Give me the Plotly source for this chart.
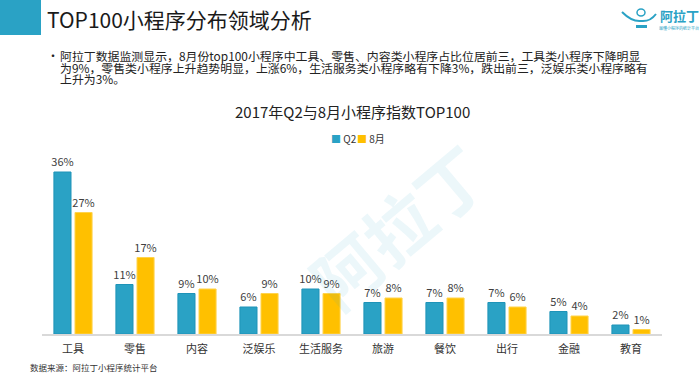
import plotly.graph_objects as go

categories = ["工具", "零售", "内容", "泛娱乐", "生活服务", "旅游", "餐饮", "出行", "金融", "教育"]
q2_values = [36, 11, 9, 6, 10, 7, 7, 7, 5, 2]
aug_values = [27, 17, 10, 9, 9, 8, 8, 6, 4, 1]
series_names = ["Q2", "8月"]

title_text = "TOP100小程序分布领域分析"
bullet_lines = [
    "阿拉丁数据监测显示，8月份top100小程序中工具、零售、内容类小程序占比位居前三，工具类小程序下降明显",
    "为9%，零售类小程序上升趋势明显，上涨6%，生活服务类小程序略有下降3%，跌出前三，泛娱乐类小程序略有",
    "上升为3%。",
]
chart_title = "2017年Q2与8月小程序指数TOP100"
source_text = "数据来源：阿拉丁小程序统计平台"

W, H = 700, 374
L, R, T, B = 42, 38, 154, 40
PW, PH = W - L - R, H - T - B


def ax(px):
    return (px - L) / PW


def ay(py):
    return (H - B - py) / PH


FONT = "Noto Sans CJK SC, Microsoft YaHei, sans-serif"
BLUE = "#2AA2C5"
GOLD = "#FFC000"
colors = [BLUE, GOLD]
edges = ["#1E93B8", "#FFD34D"]

fig = go.Figure()
for name, vals, c, e in zip(series_names, [q2_values, aug_values], colors, edges):
    fig.add_trace(go.Bar(
        x=categories, y=vals, name=name,
        marker=dict(color=c, line=dict(color=e, width=1)),
        text=[f"{v}%" for v in vals], textposition="outside",
        constraintext="none",
        textfont=dict(size=11, color="#404040", family=FONT),
        cliponaxis=False, showlegend=False,
    ))

# paragraph: small base font keeps the tight line spacing of the reference,
# while the spans carry the visible text size
paragraph = "<br>".join(f"<span style='font-size:11.9px'>{ln}</span>" for ln in bullet_lines)

annotations = [
    dict(text=title_text, x=ax(45), y=ay(19), xanchor="left", yanchor="middle",
         font=dict(size=21, color="#1a1a1a", family=FONT)),
    dict(text="•", x=ax(45), y=ay(56), xanchor="left", yanchor="middle",
         font=dict(size=12, color="#222", family=FONT)),
    dict(text=paragraph, x=ax(58), y=ay(67.5), xanchor="left", yanchor="middle", align="left",
         font=dict(size=8.9, color="#222", family=FONT)),
    dict(text=chart_title, x=ax(352), y=ay(111), xanchor="center", yanchor="middle",
         font=dict(size=15, color="#222", family=FONT)),
    dict(text=source_text, x=ax(28), y=ay(367), xanchor="left", yanchor="middle",
         font=dict(size=8.5, color="#333", family=FONT)),
    # legend (compact, as in the reference)
    dict(text=f"<span style='color:{BLUE}'>■</span> {series_names[0]}", x=ax(329), y=ay(138),
         xanchor="left", yanchor="middle", font=dict(size=10, color="#333", family=FONT)),
    dict(text=f"<span style='color:{GOLD}'>■</span> {series_names[1]}", x=ax(355), y=ay(138),
         xanchor="left", yanchor="middle", font=dict(size=10, color="#333", family=FONT)),
    # logo text
    dict(text="<b>阿拉丁</b>", x=ax(679), y=ay(15), xanchor="center", yanchor="middle",
         font=dict(size=13, color=BLUE, family=FONT)),
    dict(text="最懂小程序的统计平台", x=ax(679), y=ay(28), xanchor="center", yanchor="middle",
         font=dict(size=4, color=BLUE, family=FONT)),
    # watermark
    dict(text="<b>阿拉丁</b>", x=ax(397), y=ay(225), xanchor="center", yanchor="middle",
         textangle=-40, font=dict(size=68, color="rgba(42,162,197,0.09)", family=FONT)),
]
for a in annotations:
    a.update(xref="paper", yref="paper", showarrow=False)

shapes = [
    dict(type="rect", x0=ax(0), x1=ax(41), y0=ay(35), y1=ay(0),
         fillcolor=BLUE, line=dict(width=0)),
    # small lamp logo
    dict(type="path",
         path=f"M {ax(622)},{ay(12)} Q {ax(632)},{ay(22)} {ax(641)},{ay(21)} "
              f"Q {ax(650)},{ay(22)} {ax(656)},{ay(14)}",
         line=dict(color=BLUE, width=2)),
    dict(type="circle", x0=ax(637), x1=ax(645), y0=ay(16), y1=ay(9),
         line=dict(color=BLUE, width=1.5)),
    dict(type="rect", x0=ax(636), x1=ax(647), y0=ay(28), y1=ay(25),
         fillcolor=BLUE, line=dict(width=0)),
]
for s in shapes:
    s.update(xref="paper", yref="paper")

fig.update_layout(
    width=W, height=H,
    margin=dict(l=L, r=R, t=T, b=B),
    paper_bgcolor="white", plot_bgcolor="white",
    barmode="group", bargap=0.32, bargroupgap=0.19,
    font=dict(family=FONT, color="#333"),
    showlegend=False,
    xaxis=dict(showline=True, linecolor="#D9D9D9", linewidth=2, ticks="",
               ticklabelstandoff=4,
               tickfont=dict(size=11, color="#333", family=FONT), showgrid=False),
    yaxis=dict(range=[0, 40], visible=False, showgrid=False),
    annotations=annotations,
    shapes=shapes,
)

fig.write_html("out.html", config={"displayModeBar": False},
               post_script="document.body.style.margin='0';")
